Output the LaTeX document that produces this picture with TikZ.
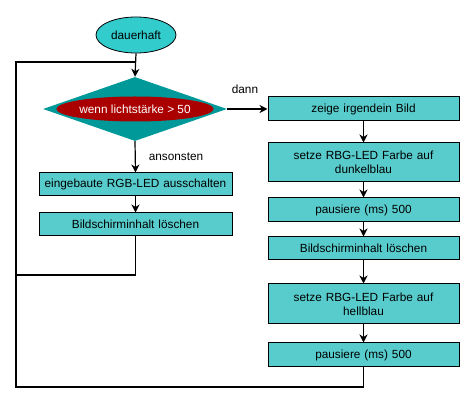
\documentclass[tikz,border=0pt]{standalone}
\usepackage{fontspec}
\setmainfont{Liberation Sans}
\usetikzlibrary{shapes.geometric,arrows.meta}
\definecolor{boxfill}{RGB}{88,204,204}
\definecolor{startfill}{RGB}{51,204,204}
\definecolor{diafill}{RGB}{0,153,153}
\definecolor{condred}{RGB}{170,0,0}
\tikzset{
  x=1pt,y=-1pt,
  every node/.style={font=\fontsize{11.8}{14}\selectfont},
  flow/.style={line width=1.2pt,-{Stealth[length=8pt,width=8pt,inset=2.5pt]}},
  plainline/.style={line width=1.2pt},
  rbox/.style={draw=black,line width=1pt,fill=boxfill,rectangle,minimum width=191pt,text width=185pt,align=center,inner sep=0pt},
  lbox/.style={draw=black,line width=1pt,fill=boxfill,rectangle,minimum width=193pt,text width=190pt,align=center,inner sep=0pt},
}
\begin{document}
\begin{tikzpicture}
\useasboundingbox (0,0) rectangle (475,403);
\node[ellipse,draw=black,line width=0.8pt,fill=startfill,minimum width=80pt,minimum height=36pt,inner sep=0pt] (start) at (136,35) {dauerhaft};
\node[diamond,draw=none,fill=diafill,minimum width=184pt,minimum height=64pt,inner sep=0pt] (dia) at (135,109) {};
\node[ellipse,fill=condred,text=white,minimum width=150pt,minimum height=25pt,inner sep=0pt] (cond) at (135,109) {wenn lichtstärke > 50};

\node[rbox,minimum height=24pt] (r1) at (363.5,109) {zeige irgendein Bild};
\node[rbox,minimum height=39pt] (r2) at (363.5,162.5) {setze RBG-LED Farbe auf\\dunkelblau};
\node[rbox,minimum height=24pt] (r3) at (363.5,210) {pausiere (ms) 500};
\node[rbox,minimum height=23pt] (r4) at (363.5,248.5) {Bildschirminhalt löschen};
\node[rbox,minimum height=40pt] (r5) at (363.5,304) {setze RBG-LED Farbe auf\\hellblau};
\node[rbox,minimum height=24pt] (r6) at (363.5,355) {pausiere (ms) 500};

\node[lbox,minimum height=23pt] (l1) at (135.5,184.5) {eingebaute RGB-LED ausschalten};
\node[lbox,minimum height=23pt] (l2) at (135.5,224.5) {Bildschirminhalt löschen};

\node (dann) at (245,89) {dann};
\node (anson) at (176,157) {ansonsten};

\coordinate (j) at (136,62);
\coordinate (lb) at (16,275);
\coordinate (ob) at (16,387);

\draw[flow] (start.south) -- (dia.north);
\draw[flow] (dia.east) -- (r1.west);
\draw[flow] (dia.south) -- (l1.north);
\draw[flow] (l1) -- (l2);
\draw[flow] (r1) -- (r2);
\draw[flow] (r2) -- (r3);
\draw[flow] (r3) -- (r4);
\draw[flow] (r4) -- (r5);
\draw[flow] (r5) -- (r6);
\draw[plainline] (l2.south) |- (lb) |- (j);
\draw[plainline] (r6.south) |- (ob) |- (j);
\end{tikzpicture}
\end{document}
